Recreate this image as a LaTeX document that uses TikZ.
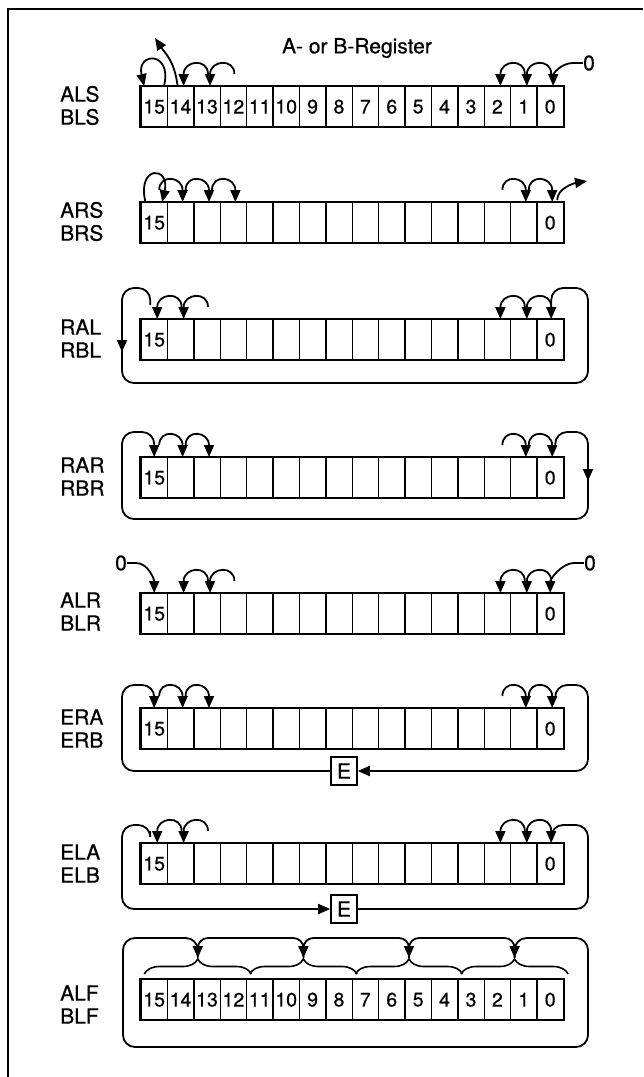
\documentclass[tikz,border=0pt]{standalone}
\usepackage{fontspec}
\setmainfont{TeX Gyre Heros}[FakeBold=0.6]
\usetikzlibrary{arrows.meta,calc,decorations.pathreplacing}
\tikzset{
 bitcell/.style={draw,line width=1.4pt,anchor=north,minimum width=26.4pt,minimum height=40pt,inner sep=0,font=\fontsize{19.5}{19.5}\selectfont},
 regbox/.style={line width=2pt},
 shiftarr/.style={line width=1.8pt,-{Triangle[length=12pt,width=10pt]}},
 reglabel/.style={anchor=west,inner sep=0,font=\fontsize{21}{21}\selectfont},
 zerolabel/.style={inner sep=0,font=\fontsize{21}{21}\selectfont},
 ebox/.style={draw,line width=1.6pt,fill=white,minimum width=26pt,minimum height=28pt,inner sep=0,font=\fontsize{21}{21}\selectfont},
 grpbrace/.style={decorate,decoration={brace,amplitude=15pt},line width=1.6pt},
 border/.style={line width=2.4pt}
}
% 16 bit cells, bit 15 on the left; #3=1 numbers every cell
\newcommand\register[3]{%
 \foreach \bit in {0,...,15}{
  \node[bitcell] (#1-\bit) at ({141+26.4*(15.5-\bit)},#2) {\ifnum#3=1 \bit\else\ifnum\bit=15 15\fi\ifnum\bit=0 0\fi\fi};
 }
 \draw[regbox] (#1-15.north west) rectangle (#1-0.south east);
}
% bit #2 moves one place left into bit #3
\newcommand\shlhook[3]{\draw[shiftarr] ($(#1-#2.north)+(1,-12)$) .. controls +(0,-16) and +(0,-26) .. ($(#1-#3.north)+(3,0)$);}
% bit #2 moves one place right into bit #3
\newcommand\shrhook[3]{\draw[shiftarr] ($(#1-#2.north)+(5,-12)$) .. controls +(0,-16) and +(0,-26) .. ($(#1-#3.north)+(2,0)$);}

\begin{document}
\begin{tikzpicture}[x=1pt,y=-1pt]
\useasboundingbox (0,0) rectangle (643,1077);
\draw[border] (643,9) -- (8,9) -- (8,1077);
\node[zerolabel] (title) at (357,48) {A- or B-Register};

% ALS / BLS
\register{als}{86}{1}
\node[reglabel] (als-name) at (60,94) {ALS};
\node[reglabel] (bls-name) at (60,117) {BLS};
\draw[shiftarr] ($(als-15.north)+(10,-1)$) .. controls +(8,-34) and +(-8,-34) .. ($(als-15.north)+(-10,0)$);
\coordinate (als-lost) at (155,38);
\draw[shiftarr] ($(als-14.north)+(-3,0)$) .. controls +(-3,-25) and +(10,15) .. (als-lost);
\shlhook{als}{13}{14}
\shlhook{als}{12}{13}
\shlhook{als}{1}{2}
\shlhook{als}{0}{1}
\node[zerolabel] (als-zero) at (589,63) {0};
\draw[shiftarr] (als-zero.west) -- ++(-10,0) .. controls +(-12,0) and +(0,-12) .. ($(als-0.north)+(3,0)$);

% ARS / BRS
\register{ars}{202}{0}
\node[reglabel] (ars-name) at (60,210) {ARS};
\node[reglabel] (brs-name) at (60,233) {BRS};
\draw[shiftarr] ($(ars-15.north)+(-9,-1)$) .. controls +(-8,-36) and +(8,-36) .. ($(ars-15.north)+(8,0)$);
\shrhook{ars}{15}{14}
\shrhook{ars}{14}{13}
\shrhook{ars}{13}{12}
\shrhook{ars}{2}{1}
\shrhook{ars}{1}{0}
\coordinate (ars-out) at (587,181);
\draw[shiftarr] ($(ars-0.north)+(7,-2)$) .. controls +(0,-12) and +(-12,2) .. (ars-out);

% RAL / RBL
\register{ral}{319}{0}
\node[reglabel] (ral-name) at (60,327) {RAL};
\node[reglabel] (rbl-name) at (60,350) {RBL};
\shlhook{ral}{14}{15}
\shlhook{ral}{13}{14}
\shlhook{ral}{1}{2}
\shlhook{ral}{0}{1}
\draw[shiftarr,rounded corners=12] ($(ral-15.north)+(-4,-14)$) |- (122,288) -- (122,352);
\draw[shiftarr,rounded corners=12] (122,343) |- (588,383) |- ($(ral-0.north)+(1,-31)$) -- ($(ral-0.north)+(1,0)$);

% RAR / RBR
\register{rar}{457}{0}
\node[reglabel] (rar-name) at (60,465) {RAR};
\node[reglabel] (rbr-name) at (60,488) {RBR};
\shrhook{rar}{15}{14}
\shrhook{rar}{14}{13}
\shrhook{rar}{2}{1}
\shrhook{rar}{1}{0}
\draw[shiftarr,rounded corners=12] ($(rar-0.north)+(5,-12)$) |- (588,432) -- (588,481);
\draw[shiftarr,rounded corners=12] (588,470) |- (122,519) |- ($(rar-15.north)+(0,-25)$) -- (rar-15.north);

% ALR / BLR
\register{alr}{593}{0}
\node[reglabel] (alr-name) at (60,600) {ALR};
\node[reglabel] (blr-name) at (60,623) {BLR};
\node[zerolabel] (alr-zl) at (121,563) {0};
\draw[shiftarr] (alr-zl.east) -- ++(9,0) .. controls +(12,0) and +(0,-14) .. (alr-15.north);
\shlhook{alr}{13}{14}
\shlhook{alr}{12}{13}
\shlhook{alr}{1}{2}
\shlhook{alr}{0}{1}
\node[zerolabel] (alr-zr) at (590,563) {0};
\draw[shiftarr] (alr-zr.west) -- ++(-10,0) .. controls +(-12,0) and +(0,-14) .. (alr-0.north);

% ERA / ERB
\register{era}{708}{0}
\node[reglabel] (era-name) at (60,717) {ERA};
\node[reglabel] (erb-name) at (60,740) {ERB};
\shrhook{era}{15}{14}
\shrhook{era}{14}{13}
\shrhook{era}{2}{1}
\shrhook{era}{1}{0}
\node[ebox] (era-e) at (344,771) {E};
\draw[shiftarr,rounded corners=12] ($(era-0.north)+(5,-12)$) |- (588,685) |- (era-e.east);
\draw[shiftarr,rounded corners=12] (era-e.west) -| (122,685) -| (era-15.north);

% ELA / ELB
\register{ela}{843}{0}
\node[reglabel] (ela-name) at (60,852) {ELA};
\node[reglabel] (elb-name) at (60,875) {ELB};
\shlhook{ela}{14}{15}
\shlhook{ela}{13}{14}
\shlhook{ela}{1}{2}
\shlhook{ela}{0}{1}
\node[ebox] (ela-e) at (344,909) {E};
\draw[shiftarr,rounded corners=12] ($(ela-15.north)+(-4,-12)$) |- (122,825) |- (ela-e.west);
\draw[shiftarr,rounded corners=12] (ela-e.east) -| (588,825) -| ($(ela-0.north)+(1,0)$);

% ALF / BLF
\register{alf}{979}{1}
\node[reglabel] (alf-name) at (60,993) {ALF};
\node[reglabel] (blf-name) at (60,1016) {BLF};
\foreach \g/\l/\r in {1/15/12,2/11/8,3/7/4,4/3/0}{
 \draw[grpbrace] ($(alf-\l.north west)+(4,-5)$) -- ($(alf-\r.north east)+(4,-5)$);
 \coordinate (alf-tip\g) at ($($(alf-\l.north west)!0.5!(alf-\r.north east)$)+(4,-21)$);
}
\draw[shiftarr,rounded corners=10] (alf-tip2) |- ($(alf-tip1)+(0,-20)$) -- (alf-tip1);
\draw[shiftarr,rounded corners=10] (alf-tip3) |- ($(alf-tip2)+(0,-20)$) -- (alf-tip2);
\draw[shiftarr,rounded corners=10] (alf-tip4) |- ($(alf-tip3)+(0,-20)$) -- (alf-tip3);
\draw[shiftarr,rounded corners=12] (alf-tip1) |- (123,938) -- (123,1047) -- (588,1047) -- (588,938) -| (alf-tip4);
\end{tikzpicture}
\end{document}
